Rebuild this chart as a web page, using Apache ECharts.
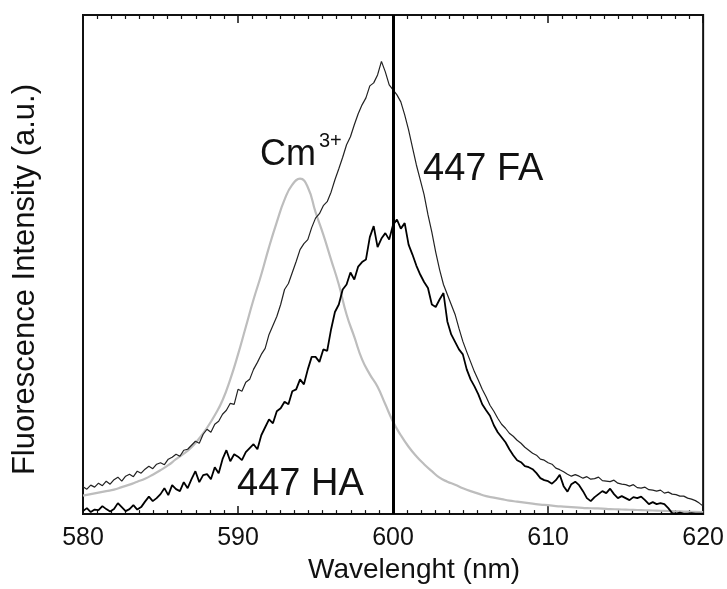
<!DOCTYPE html>
<html>
<head>
<meta charset="utf-8">
<script src="https://cdn.jsdelivr.net/npm/echarts@6/dist/echarts.min.js"></script>
<style>
  html, body { margin: 0; padding: 0; background: #fff; }
  #chart { width: 727px; height: 589px; }
</style>
</head>
<body>
<div id="chart"></div>
<script>
// wavelength grid (nm)
const wlStart = 580;
const stepCm = 0.5;
const stepSample = 0.25;

// Cm3+ aquo ion (grey, smooth), 0.5 nm steps
const cmVals = [
  3.7, 4.0, 4.3, 4.6, 4.9, 5.4, 5.9, 6.5, 7.1, 7.9,
  8.8, 9.8, 11.0, 12.1, 13.4, 15.2, 17.3, 19.8, 22.8, 27.0,
  32.0, 37.5, 43.0, 48.0, 53.5, 58.5, 63.0, 66.0, 67.2, 65.5,
  60.5, 56.0, 51.0, 46.0, 40.0, 35.5, 31.0, 28.0, 25.5, 22.0,
  18.5, 15.8, 13.5, 11.6, 10.0, 8.6, 7.3, 6.5, 5.9, 5.2,
  4.6, 4.1, 3.6, 3.3, 3.0, 2.7, 2.5, 2.3, 2.1, 1.9,
  1.8, 1.6, 1.5, 1.4, 1.3, 1.2, 1.15, 1.1, 1.0, 0.95,
  0.9, 0.85, 0.8, 0.75, 0.7, 0.65, 0.6, 0.55, 0.5, 0.45,
  0.4
];

// 447 FA (thin black), 0.25 nm steps
const faVals = [
  5.5, 5.0, 5.8, 5.4,   6.2, 5.7, 6.6, 6.0,   6.9, 7.4, 6.6, 7.6,
  8.0, 7.5, 8.6, 8.2,   9.0, 9.6, 9.1, 10.0,  10.3, 9.9, 11.0, 11.4,
  12.0, 11.6, 12.8, 13.0, 13.8, 14.6, 14.2, 16.0, 17.0, 16.4, 18.0, 18.6,
  20.0, 20.8, 22.2, 22.0, 25.0, 24.6, 26.4, 27.0, 29.0, 30.4, 32.0, 33.2,
  36.0, 37.8, 39.6, 42.0, 45.0, 46.2, 48.4, 50.6, 53.0, 54.2, 55.0, 57.4,
  59.3, 60.2, 61.8, 62.6, 64.5, 67.0, 69.2, 71.5, 74.0, 75.6, 78.0, 80.2,
  82.0, 83.4, 85.8, 86.4, 88.0, 90.7, 88.6, 86.0, 85.0, 84.0, 82.6, 80.0,
  77.0, 73.5, 70.0, 67.0, 64.0, 60.0, 56.5, 52.5, 49.0, 46.0, 44.0, 42.0,
  40.0, 37.2, 34.6, 32.5, 30.5, 28.5, 26.8, 25.0, 23.5, 21.8, 20.6, 19.2,
  18.0, 17.2, 16.2, 15.6, 14.8, 14.2, 13.4, 12.8, 12.2, 11.8, 11.0, 10.8,
  10.3, 10.0, 9.2, 8.9,  8.5, 8.0, 7.6, 7.9,    7.6, 7.2, 7.5, 7.0,
  7.1, 7.4, 6.7, 6.6,    6.5, 6.8, 6.2, 6.0,    5.9, 5.6, 5.9, 5.3,
  5.2, 5.4, 4.9, 4.8,    4.6, 4.8, 4.2, 4.4,    4.0, 3.9, 3.6, 3.6,
  3.2, 3.0, 2.7, 2.2,    1.6
];

// 447 HA (thicker black), 0.25 nm steps
const haVals = [
  0.6, 1.2, 0.4, 0.9,    0.8, 1.6, 1.0, 0.5,    1.0, 2.2, 1.4, 0.6,
  1.0, 1.8, 0.9, 1.4,    2.5, 3.5, 2.6, 3.2,    4.0, 5.2, 3.8, 5.8,
  5.0, 4.6, 6.4, 5.2,    7.0, 8.6, 6.4, 7.8,    8.0, 7.0, 9.4, 8.2,
  11.0, 12.8, 10.6, 12.0, 11.5, 10.8, 12.4, 13.2, 14.0, 13.0, 15.8, 17.4,
  19.0, 18.2, 20.6, 21.2, 22.5, 22.0, 24.6, 25.0, 27.0, 26.0, 29.0, 31.5,
  31.5, 30.5, 33.0, 32.7, 37.0, 40.5, 42.0, 45.0, 46.0, 48.4, 47.0, 49.6,
  50.5, 51.0, 55.5, 57.7, 53.5, 55.2, 56.3, 55.0, 58.0, 59.0, 57.2, 58.3,
  54.0, 52.0, 49.8, 48.0, 46.5, 45.3, 42.0, 41.5, 43.0, 44.3, 38.6, 36.0,
  34.5, 33.0, 32.0, 29.0, 27.0, 25.6, 24.0, 22.0, 20.8, 19.7, 17.8, 16.4,
  15.4, 14.4, 13.0, 11.8, 10.8, 10.4, 9.6, 9.4,  9.0, 8.2, 7.2, 6.8,
  6.6, 6.1, 6.8, 7.9,    5.6, 4.5, 6.0, 6.5,    5.8, 4.6, 3.2, 2.6,
  3.4, 4.0, 4.6, 4.2,    5.1, 4.0, 3.2, 3.6,    3.2, 2.8, 3.4, 3.2,
  3.5, 2.8, 2.0, 2.4,    2.0, 2.2, 2.0, 1.2,    0.2, 0.1, 0.3, 0.1,
  0.1, 0.2, 0.1, 0.1,    0.1
];

const xTicks = [580, 590, 600, 610, 620];
const markerWl = 600;

const toPairs = (vals, step) => vals.map((v, i) => [wlStart + i * step, v]);

const chart = echarts.init(document.getElementById('chart'));
const font = 'Liberation Sans, Arial, sans-serif';

const xCommon = {
  type: 'value',
  min: xTicks[0],
  max: xTicks[xTicks.length - 1],
  interval: 10,
  splitLine: { show: false },
  axisLine: { show: true, lineStyle: { color: '#111', width: 2 } },
  axisTick: { show: true, inside: true, length: 8, lineStyle: { color: '#111', width: 1.5 } },
  minorTick: { show: true, splitNumber: 11, length: 4, lineStyle: { color: '#111', width: 1.2 } }
};

chart.setOption({
  animation: false,
  backgroundColor: '#fff',
  grid: { left: 83, right: 23, top: 15, bottom: 66, show: true, borderColor: '#111', borderWidth: 2 },
  xAxis: [
    Object.assign({}, xCommon, {
      position: 'bottom',
      name: 'Wavelenght (nm)',
      nameLocation: 'middle',
      nameGap: 40,
      nameTextStyle: { fontFamily: font, fontSize: 28, color: '#111', padding: [0, 0, 0, 42] },
      axisLabel: { fontFamily: font, fontSize: 25, color: '#111', margin: 12 }
    }),
    Object.assign({}, xCommon, {
      position: 'top',
      axisLabel: { show: false }
    })
  ],
  yAxis: {
    type: 'value',
    min: 0,
    max: 100,
    name: 'Fluorescence Intensity (a.u.)',
    nameLocation: 'middle',
    nameGap: 42,
    nameTextStyle: { fontFamily: font, fontSize: 31, color: '#111', padding: [0, 30, 0, 0] },
    axisLine: { show: true, lineStyle: { color: '#111', width: 2 } },
    axisTick: { show: false },
    axisLabel: { show: false },
    splitLine: { show: false }
  },
  series: [
    {
      name: 'Cm3+',
      type: 'line',
      data: toPairs(cmVals, stepCm),
      showSymbol: false,
      smooth: true,
      lineStyle: { color: '#bdbdbd', width: 2.2 },
      z: 2
    },
    {
      name: '447 FA',
      type: 'line',
      data: toPairs(faVals, stepSample),
      showSymbol: false,
      lineStyle: { color: '#222', width: 1.2 },
      z: 3
    },
    {
      name: '447 HA',
      type: 'line',
      data: toPairs(haVals, stepSample),
      showSymbol: false,
      lineStyle: { color: '#000', width: 1.8 },
      z: 4,
      markLine: {
        silent: true,
        symbol: 'none',
        label: { show: false },
        lineStyle: { color: '#000', width: 3, type: 'solid' },
        data: [{ xAxis: markerWl }]
      }
    }
  ],
  graphic: [
    { type: 'text', left: 260, top: 137, style: { text: 'Cm', font: '36px ' + font, fill: '#111' } },
    { type: 'text', left: 319, top: 131, style: { text: '3+', font: '20px ' + font, fill: '#111' } },
    { type: 'text', left: 423, top: 151, style: { text: '447 FA', font: '38px ' + font, fill: '#111' } },
    { type: 'text', left: 237, top: 466, style: { text: '447 HA', font: '38px ' + font, fill: '#111' } }
  ]
});
</script>
</body>
</html>
